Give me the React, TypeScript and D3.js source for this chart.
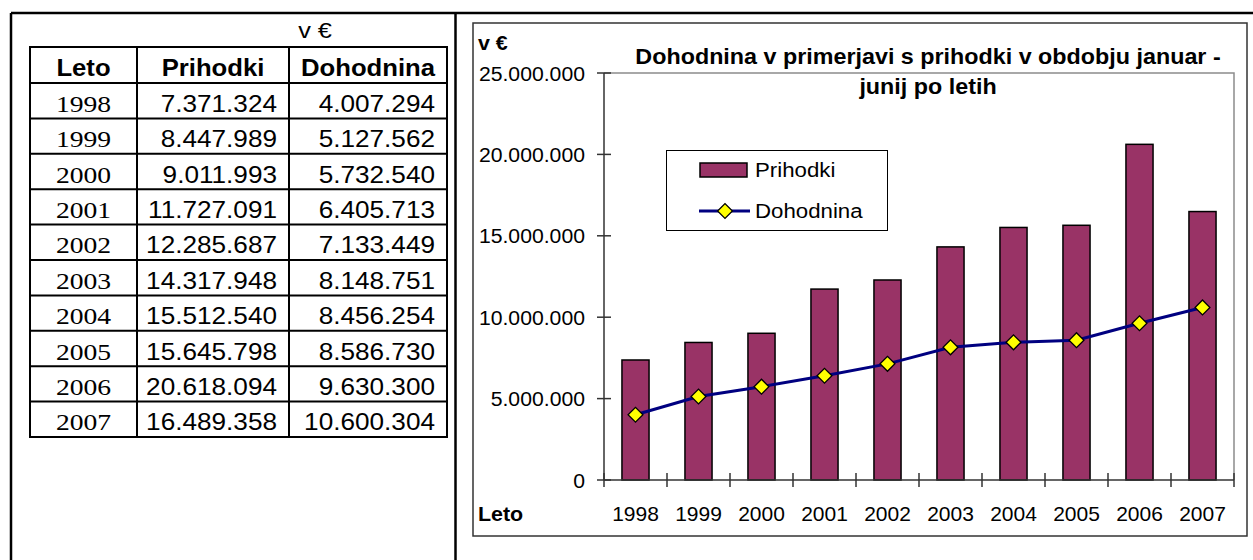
import React, { useEffect } from "react";
import * as d3 from "d3";

const width = 1253,
  height = 560;

const SANS = "'Liberation Sans', Arial, sans-serif";
const SERIF = "'Liberation Serif', 'Times New Roman', serif";

// podatki
const years = ["1998", "1999", "2000", "2001", "2002", "2003", "2004", "2005", "2006", "2007"];
const prihodki = [7371324, 8447989, 9011993, 11727091, 12285687, 14317948, 15512540, 15645798, 20618094, 16489358];
const dohodnina = [4007294, 5127562, 5732540, 6405713, 7133449, 8148751, 8456254, 8586730, 9630300, 10600304];
const yTicks = [0, 5000000, 10000000, 15000000, 20000000, 25000000];
const headers = ["Leto", "Prihodki", "Dohodnina"];
const titleLines = ["Dohodnina v primerjavi s prihodki v obdobju januar -", "junij po letih"];
const legendNames = ["Prihodki", "Dohodnina"];

const fmt = d3
  .formatLocale({ decimal: ",", thousands: ".", grouping: [3], currency: ["", "€"] })
  .format(",d");

function T({ x, y, sx = 1, anchor = "start", size, weight = "normal", family = SANS, children }: any) {
  return (
    <text
      transform={`translate(${x},${y}) scale(${sx},1)`}
      textAnchor={anchor}
      fontSize={size}
      fontWeight={weight}
      fontFamily={family}
      fill="#000"
    >
      {children}
    </text>
  );
}

function Table() {
  const cols = [30, 137, 289, 447];
  const headTop = 47,
    headBottom = 83;
  const row = d3.scaleLinear().domain([0, years.length]).range([headBottom, 437]);
  const pad = 12;

  return (
    <g>
      <T x={315} y={38} size={22} sx={1.15} anchor="middle">v €</T>
      {/* mreza tabele */}
      <g stroke="#000" strokeWidth={2} fill="none">
        <rect x={cols[0]} y={headTop} width={cols[3] - cols[0]} height={row(years.length) - headTop} />
        {cols.slice(1, 3).map(c => (
          <line key={c} x1={c} x2={c} y1={headTop} y2={row(years.length)} />
        ))}
        {d3.range(0, years.length).map(i => (
          <line key={i} x1={cols[0]} x2={cols[3]} y1={row(i)} y2={row(i)} />
        ))}
      </g>
      {headers.map((h, i) => (
        <T key={h} x={(cols[i] + cols[i + 1]) / 2} y={headTop + 29} size={24} sx={1.07} weight="bold" anchor="middle">
          {h}
        </T>
      ))}
      {years.map((yr, i) => (
        <g key={yr}>
          <T x={(cols[0] + cols[1]) / 2} y={row(i) + 28.7} size={24} sx={1.15} family={SERIF} anchor="middle">
            {yr}
          </T>
          <T x={cols[2] - pad} y={row(i) + 28.7} size={24} sx={1.09} anchor="end">
            {fmt(prihodki[i])}
          </T>
          <T x={cols[3] - pad} y={row(i) + 28.7} size={24} sx={1.09} anchor="end">
            {fmt(dohodnina[i])}
          </T>
        </g>
      ))}
    </g>
  );
}

function Chart() {
  const plot = { left: 604, right: 1234, top: 73, bottom: 480 };
  const x = d3.scaleBand().domain(years).range([plot.left, plot.right]);
  const y = d3.scaleLinear().domain([0, 25000000]).range([plot.bottom, plot.top]);
  const barW = x.step() * 0.43;
  const cx = (d: string) => (x(d) as number) + x.bandwidth() / 2;

  const line = d3
    .line<number>()
    .x((_, i) => cx(years[i]))
    .y(d => y(d));

  const diamond = d3.symbol(d3.symbolSquare, 110)();
  const tk = 7;

  return (
    <g>
      {/* okvir grafa */}
      <rect x={473} y={23} width={774} height={513} fill="#fff" stroke="#333" strokeWidth={1.5} />
      {/* naslov */}
      {titleLines.map((t, i) => (
        <T key={i} x={928} y={64 + i * 30} size={22} sx={1.06} weight="bold" anchor="middle">
          {t}
        </T>
      ))}
      {/* okvir risalne povrsine */}
      <path
        d={`M${plot.left},${plot.top}H${plot.right}V${plot.bottom}`}
        fill="none"
        stroke="#8c8c8c"
        strokeWidth={1.5}
      />
      {/* stolpci */}
      <g fill="#993366" stroke="#000" strokeWidth={1.5}>
        {prihodki.map((v, i) => (
          <rect key={i} x={cx(years[i]) - barW / 2} y={y(v)} width={barW} height={y(0) - y(v)} />
        ))}
      </g>
      {/* os y */}
      <g stroke="#333" strokeWidth={1.5}>
        <line x1={plot.left} x2={plot.left} y1={plot.top} y2={plot.bottom} />
        {yTicks.map(t => (
          <line key={t} x1={plot.left - tk} x2={plot.left + tk} y1={y(t)} y2={y(t)} />
        ))}
      </g>
      {yTicks.map(t => (
        <T key={t} x={585} y={y(t) + 7.5} size={21} sx={1.01} anchor="end">
          {fmt(t)}
        </T>
      ))}
      {/* os x */}
      <g stroke="#333" strokeWidth={1.5}>
        <line x1={plot.left} x2={plot.right} y1={plot.bottom} y2={plot.bottom} />
        {d3.range(0, years.length + 1).map(i => (
          <line
            key={i}
            x1={plot.left + i * x.step()}
            x2={plot.left + i * x.step()}
            y1={plot.bottom - tk}
            y2={plot.bottom + tk}
          />
        ))}
      </g>
      {years.map(yr => (
        <T key={yr} x={cx(yr)} y={521} size={21} sx={1.0} anchor="middle">
          {yr}
        </T>
      ))}
      <T x={478} y={521} size={21} sx={1.02} weight="bold">Leto</T>
      <T x={478} y={50} size={21} sx={1.02} weight="bold">v €</T>
      {/* crta dohodnine */}
      <path d={line(dohodnina) || ""} fill="none" stroke="#000080" strokeWidth={3} />
      {dohodnina.map((v, i) => (
        <path
          key={i}
          d={diamond || ""}
          transform={`translate(${cx(years[i])},${y(v)}) rotate(45)`}
          fill="#ffff00"
          stroke="#000"
          strokeWidth={1.3}
        />
      ))}
      {/* legenda */}
      <g>
        <rect x={666.5} y={150.5} width={221} height={80} fill="#fff" stroke="#000" strokeWidth={1} />
        <rect x={700} y={163} width={47} height={14} fill="#993366" stroke="#000" strokeWidth={1.5} />
        <T x={755} y={177} size={21} sx={1.06}>{legendNames[0]}</T>
        <line x1={699} x2={750} y1={211} y2={211} stroke="#000080" strokeWidth={3} />
        <path d={diamond || ""} transform="translate(725,211) rotate(45)" fill="#ffff00" stroke="#000" strokeWidth={1.3} />
        <T x={755} y={218} size={21} sx={1.06}>{legendNames[1]}</T>
      </g>
    </g>
  );
}

export default function App() {
  useEffect(() => {
    document.body.style.margin = "0";
  }, []);

  return (
    <svg width={width} height={height} style={{ display: "block", background: "#fff" }}>
      <rect width={width} height={height} fill="#fff" />
      {/* zunanji okvir */}
      <g stroke="#000" strokeWidth={2.5} fill="none">
        <line x1={11} x2={1253} y1={13} y2={13} />
        <line x1={11} x2={11} y1={13} y2={height} />
        <line x1={455.5} x2={455.5} y1={13} y2={height} />
      </g>
      <Table />
      <Chart />
    </svg>
  );
}
